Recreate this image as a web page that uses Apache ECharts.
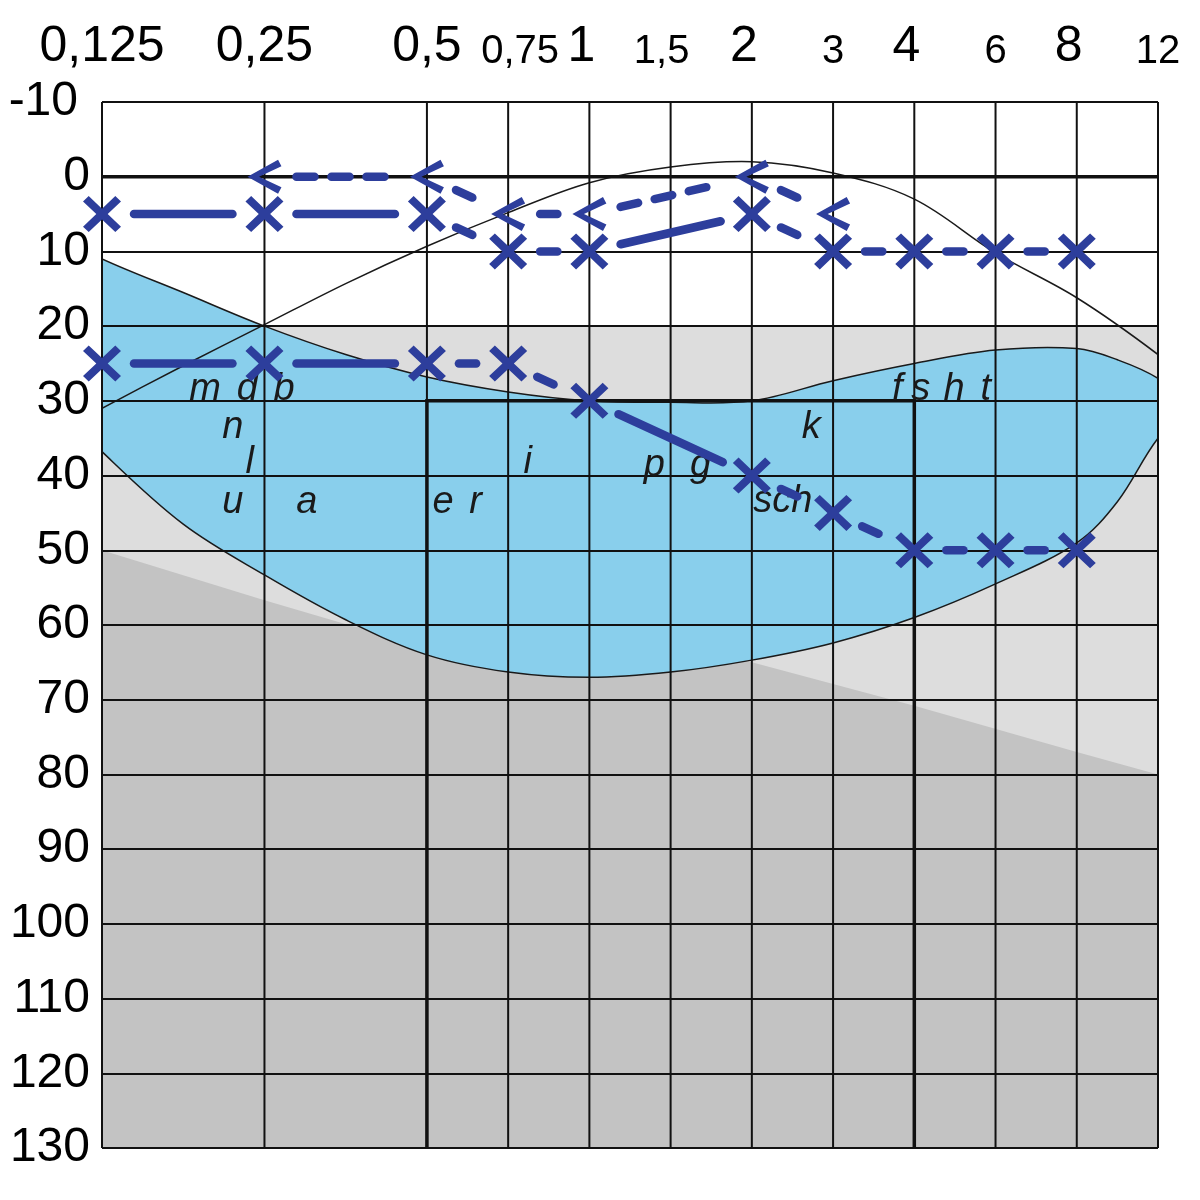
<!DOCTYPE html>
<html><head><meta charset="utf-8">
<script src="https://cdn.jsdelivr.net/npm/echarts@6.0.0/dist/echarts.min.js"></script>
<style>html,body{margin:0;padding:0;background:#fff}#c{width:1200px;height:1200px}</style>
</head><body><div id="c"></div>
<script>
// ---- tick labels (frequency in kHz, evenly spaced half-octave grid positions) ----
const freqTicks = ['0,125','','0,25','','0,5','0,75','1','1,5','2','3','4','6','8','12'];
const gridXPositions = [0,2,4,5,6,7,8,9,10,11,12,13];
const dbMin = -10, dbMax = 130, dbStep = 10;

// ---- measured thresholds [gridPosition, dB] ----
const airUpper = [[0,5],[2,5],[4,5],[5,10],[6,10],[8,5],[9,10],[10,10],[11,10],[12,10]];
const airUpperDashed = [0,0,1,1,0,1,1,1,1];
const boneUpper = [[2,0],[4,0],[5,5],[6,5],[8,0],[9,5]];
const boneUpperDashed = [1,1,1,1,1];
const airLower = [[0,25],[2,25],[4,25],[5,25],[6,30],[8,40],[9,45],[10,50],[11,50],[12,50]];
const airLowerDashed = [0,0,1,1,0,1,1,1,1];

// ---- background regions ----
const bananaTop = [[-0.5,8],[0,11],[1,15.5],[2,20],[3,23.8],[4,26.8],[5,28.8],[6,30],[7,30.2],[8,30],[9,27.3],[10,25],[11,23.2],[12,23],[12.5,24.5],[13,27],[13.4,31]];
const bananaBottom = [[-0.5,31],[0,36.8],[1,46.5],[2,53.3],[3,59.3],[4,64],[5,66.3],[6,67],[7,66.3],[8,64.7],[9,62.4],[10,59],[11,54.5],[12,49],[12.5,43.5],[13,35],[13.4,31]];
const upperCurve = [[-0.5,34],[0,31],[1,25.3],[2,19.8],[3,14.3],[4,9.3],[5,4.8],[6,0.8],[7,-1.3],[8,-2],[9,-0.5],[10,3],[11,10.2],[12,16.2],[13,23.8],[13.5,28.5]];
const lightGrayTop = 20;
const darkGrayEdge = [[0,50],[2,56.7],[3.1,60.2],[8,65],[10,70.8],[12,77],[13,80]];
const boxLine = [[4,130],[4,30],[10,30],[10,130]];
const zeroLine = [[0,0],[13,0]];

// ---- speech sound letters [text, gridPosition, dB] ----
const letters = [
  ['m',1.27,28.5],['d',1.79,28.5],['b',2.24,28.5],
  ['n',1.61,33.6],['l',1.82,38.3],['u',1.61,43.6],['a',2.52,43.6],
  ['e',4.20,43.6],['r',4.60,43.6],['i',5.24,38.3],
  ['p',6.80,38.6],['g',7.37,38.6],['sch',8.38,43.4],['k',8.73,33.6],
  ['f',9.79,28.5],['s',10.08,28.5],['h',10.49,28.5],['t',10.88,28.5]
];

// ---- styles ----
const BLUE = '#2d3e9c';
const FONT = '"Liberation Sans", Arial, sans-serif';
const labelStyleKey = {'0,125':'b','0,25':'b','0,5':'b','0,75':'sr','1':'bl','1,5':'sl','2':'bl','3':'s','4':'bl','6':'s','8':'bl','12':'s'};
const X_PATH = 'path://M0,1.5 L1.5,0 L5,3.5 L8.5,0 L10,1.5 L6.5,5 L10,8.5 L8.5,10 L5,6.5 L1.5,10 L0,8.5 L3.5,5 Z';
const LT_PATH = 'path://M0,5 L9,0 L10,1.9 L3.4,5 L10,8.1 L9,10 Z';

function buildSegments(points, dashed) {
  return dashed.map((d, i) => [points[i][0], points[i][1], points[i+1][0], points[i+1][1], d]);
}
const segmentData = [].concat(
  buildSegments(airUpper, airUpperDashed),
  buildSegments(boneUpper, boneUpperDashed),
  buildSegments(airLower, airLowerDashed)
);

const chart = echarts.init(document.getElementById('c'), null, {renderer: 'canvas'});

function clipRect(params) {
  const cs = params.coordSys;
  return {type: 'rect', shape: {x: cs.x, y: cs.y, width: cs.width, height: cs.height}};
}

const option = {
  animation: false,
  backgroundColor: '#fff',
  grid: {left: 102, right: 42, top: 102, bottom: 52, containLabel: false},
  xAxis: {
    type: 'value', position: 'top', min: 0, max: 13, interval: 1,
    axisLine: {show: false}, axisTick: {show: false}, splitLine: {show: false},
    axisLabel: {
      margin: 30, color: '#000',
      formatter: v => { const t = freqTicks[v]; if (!t) return ''; return '{' + labelStyleKey[t] + '|' + t + '}'; },
      rich: {
        b: {fontSize: 50, fontFamily: FONT, color: '#000'},
        bl: {fontSize: 50, fontFamily: FONT, color: '#000', padding: [0, 16, 0, 0]},
        s: {fontSize: 40, fontFamily: FONT, color: '#000'},
        sr: {fontSize: 40, fontFamily: FONT, color: '#000', padding: [0, 0, 0, 24]},
        sl: {fontSize: 40, fontFamily: FONT, color: '#000', padding: [0, 18, 0, 0]}
      }
    }
  },
  yAxis: {
    type: 'value', inverse: true, min: dbMin, max: dbMax, interval: dbStep, z: 3,
    axisLine: {show: false}, axisTick: {show: false},
    splitLine: {show: true, lineStyle: {color: '#111', width: 2}},
    axisLabel: {
      margin: 12, color: '#000', fontSize: 48, fontFamily: FONT,
      formatter: v => v < 0 ? '{n|' + v + '}' : String(v),
      rich: {n: {fontSize: 48, fontFamily: FONT, color: '#000', padding: [0, 12, 0, 0]}}
    }
  },
  series: [
    {
      type: 'custom', z: 1, clip: true, silent: true,
      data: [[0, 0]],
      renderItem: (params, api) => {
        const c = p => api.coord(p);
        const tl = c([0, lightGrayTop]), br = c([13, dbMax]);
        const bananaPoly = bananaTop.concat(bananaBottom.slice().reverse().slice(1));
        return {
          type: 'group', clipPath: clipRect(params),
          children: [
            {type: 'rect', shape: {x: tl[0], y: tl[1], width: br[0] - tl[0], height: br[1] - tl[1]}, style: {fill: '#dddddd'}},
            {type: 'polygon', shape: {points: darkGrayEdge.concat([[13, dbMax], [0, dbMax]]).map(c)}, style: {fill: '#c3c3c3'}},
            {type: 'polygon', shape: {points: bananaPoly.map(c), smooth: 0.35}, style: {fill: '#89cfec'}},
            {type: 'polyline', shape: {points: bananaTop.map(c), smooth: 0.35}, style: {stroke: '#1a1a1a', lineWidth: 1.5, fill: null}},
            {type: 'polyline', shape: {points: bananaBottom.map(c), smooth: 0.35}, style: {stroke: '#1a1a1a', lineWidth: 1.5, fill: null}},
            {type: 'polyline', shape: {points: upperCurve.map(c), smooth: 0.35}, style: {stroke: '#1a1a1a', lineWidth: 1.5, fill: null}}
          ]
        };
      }
    },
    {
      type: 'custom', z: 4, silent: true,
      data: [[0, 0]],
      renderItem: (params, api) => {
        const c = p => api.coord(p);
        const children = gridXPositions.map(x => {
          const a = c([x, dbMin]), b = c([x, dbMax]);
          return {type: 'line', shape: {x1: a[0], y1: a[1], x2: b[0], y2: b[1]}, style: {stroke: '#111', lineWidth: 2}};
        });
        children.push({type: 'polyline', shape: {points: zeroLine.map(c)}, style: {stroke: '#111', lineWidth: 3.5, fill: null}});
        children.push({type: 'polyline', shape: {points: boxLine.map(c)}, style: {stroke: '#111', lineWidth: 3.5, fill: null}});
        return {type: 'group', children};
      }
    },
    {
      type: 'custom', z: 5, silent: true,
      data: letters.map(l => [l[1], l[2]]),
      renderItem: (params, api) => {
        const p = api.coord([api.value(0), api.value(1)]);
        return {type: 'text', style: {text: letters[params.dataIndex][0], x: p[0], y: p[1], align: 'center', verticalAlign: 'middle',
          font: 'italic 38px ' + FONT, fill: '#1a1a1a'}};
      }
    },
    {
      type: 'custom', z: 6, silent: true,
      data: segmentData,
      encode: {x: [0, 2], y: [1, 3]},
      renderItem: (params, api) => {
        const p1 = api.coord([api.value(0), api.value(1)]);
        const p2 = api.coord([api.value(2), api.value(3)]);
        const dx = p2[0] - p1[0], dy = p2[1] - p1[1];
        const L = Math.hypot(dx, dy), ux = dx / L, uy = dy / L, s = 32;
        return {type: 'line', shape: {x1: p1[0] + ux * s, y1: p1[1] + uy * s, x2: p2[0] - ux * s, y2: p2[1] - uy * s},
          style: {stroke: BLUE, lineWidth: 8.5, lineCap: 'round', lineDash: api.value(4) ? [18, 17] : null}};
      }
    },
    {type: 'scatter', z: 7, data: airUpper, symbol: X_PATH, symbolSize: [38, 36], itemStyle: {color: BLUE, opacity: 1}},
    {type: 'scatter', z: 7, data: boneUpper, symbol: LT_PATH, symbolSize: [34, 34], itemStyle: {color: BLUE, opacity: 1}},
    {type: 'scatter', z: 7, data: airLower, symbol: X_PATH, symbolSize: [38, 36], itemStyle: {color: BLUE, opacity: 1}}
  ]
};
chart.setOption(option);
</script>
</body></html>
